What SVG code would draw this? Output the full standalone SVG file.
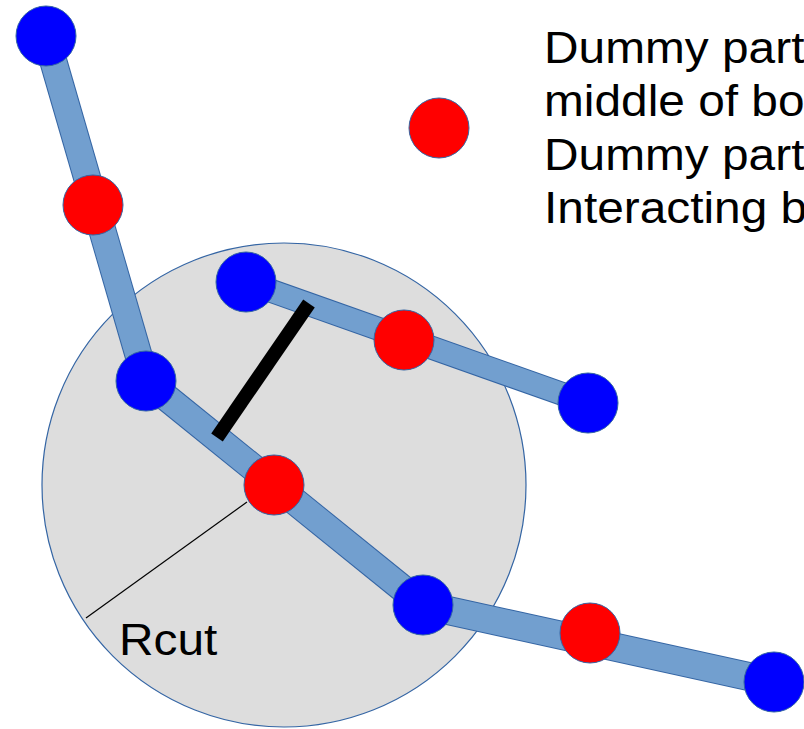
<svg xmlns="http://www.w3.org/2000/svg" width="804" height="729" viewBox="0 0 804 729">
  <style>
    .bo { stroke: #3465a4; fill: none; stroke-linecap: butt; }
    .bi { stroke: #729fcf; fill: none; stroke-linecap: butt; }
    .blue { fill: #0000ff; stroke: #3465a4; stroke-width: 1; }
    .red { fill: #ff0000; stroke: #3465a4; stroke-width: 1; }
    .lbl { font-family: "Liberation Sans", Arial, sans-serif; font-size: 44.5px; fill: #000000; }
  </style>
  <rect width="804" height="729" fill="#ffffff"/>
  <g id="cutoff-region">
    <circle cx="284" cy="485" r="242" fill="#dddddd" stroke="#3465a4" stroke-width="1.2"/>
    <line x1="86" y1="618" x2="247" y2="502" stroke="#000000" stroke-width="1.2"/>
    <text class="lbl" transform="translate(119,655) scale(1.075,1)">Rcut</text>
  </g>
  <g id="connectors">
    <g id="chain1">
      <line class="bo" x1="46" y1="36" x2="146" y2="381" stroke-width="28"/>
      <line class="bi" x1="46" y1="36" x2="146" y2="381" stroke-width="26"/>
      <line class="bo" x1="146" y1="381" x2="423" y2="605" stroke-width="28"/>
      <line class="bi" x1="146" y1="381" x2="423" y2="605" stroke-width="26"/>
      <line class="bo" x1="423" y1="605" x2="774" y2="682" stroke-width="29"/>
      <line class="bi" x1="423" y1="605" x2="774" y2="682" stroke-width="27"/>
    </g>
    <g id="chain2">
      <line class="bo" x1="246" y1="282" x2="588" y2="403" stroke-width="24"/>
      <line class="bi" x1="246" y1="282" x2="588" y2="403" stroke-width="22"/>
    </g>
    <line id="interaction" x1="309" y1="303.5" x2="217" y2="437.5" stroke="#000000" stroke-width="14" stroke-linecap="butt"/>
  </g>
  <g id="B1"><circle class="blue" cx="46" cy="36" r="30"/></g>
  <g id="R1"><circle class="red" cx="93" cy="205" r="30"/></g>
  <g id="B2"><circle class="blue" cx="146" cy="381" r="30"/></g>
  <g id="R2"><circle class="red" cx="274" cy="485" r="30"/></g>
  <g id="B3"><circle class="blue" cx="423" cy="605" r="30"/></g>
  <g id="R3"><circle class="red" cx="590" cy="633" r="30"/></g>
  <g id="B4"><circle class="blue" cx="774" cy="682" r="30"/></g>
  <g id="B5"><circle class="blue" cx="246" cy="282" r="30"/></g>
  <g id="R4"><circle class="red" cx="404" cy="340" r="30"/></g>
  <g id="B6"><circle class="blue" cx="588" cy="403" r="30"/></g>
  <g id="legend">
    <circle class="red" cx="439" cy="128" r="30"/>
    <text class="lbl" transform="translate(544,62.5) scale(1.075,1)">Dummy part</text>
    <text class="lbl" transform="translate(544,116) scale(1.075,1)">middle of bo</text>
    <text class="lbl" transform="translate(544,169.5) scale(1.075,1)">Dummy part</text>
    <text class="lbl" transform="translate(544,223) scale(1.075,1)">Interacting b</text>
  </g>
</svg>
